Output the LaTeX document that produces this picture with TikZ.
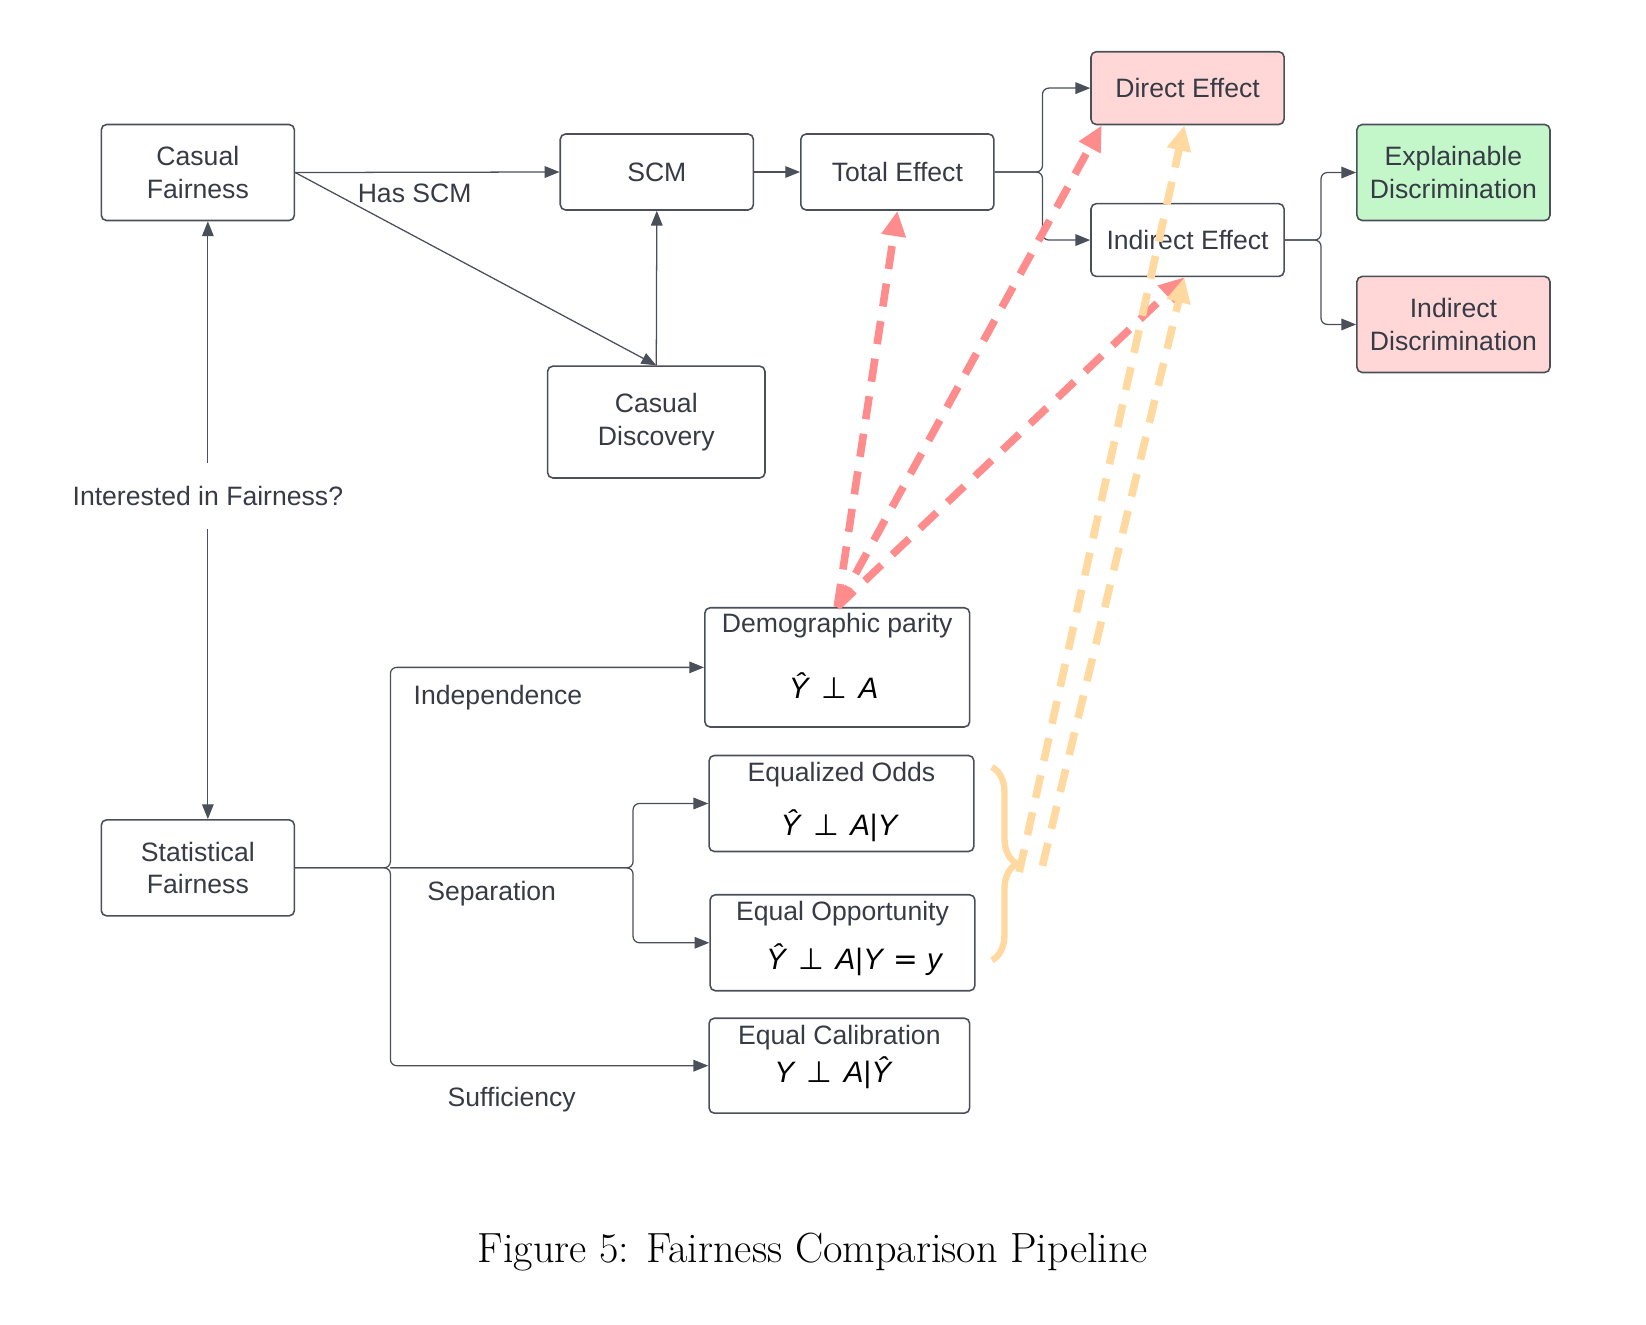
\documentclass[tikz,border=0pt]{standalone}
\usepackage{fontspec}
\usepackage{xcolor}
\newfontfamily\lucid{Liberation Sans}
\newfontfamily\symb{DejaVu Sans}
\usetikzlibrary{arrows.meta,decorations.pathreplacing}

\definecolor{boxline}{HTML}{4A4F59}
\definecolor{inkgray}{HTML}{363B45}
\definecolor{pinkfill}{HTML}{FFD7D7}
\definecolor{greenfill}{HTML}{C3F6C9}
\definecolor{reddash}{HTML}{FF8C8C}
\definecolor{orangedash}{HTML}{FFD99F}

\newcommand{\hatY}{\textit{Ŷ}}
\newcommand{\indep}{\hspace{0.38em}{\symb ⊥}\hspace{0.38em}}
\newcommand{\eqsign}{\hspace{0.3em}{\symb =}\hspace{0.3em}}

\begin{document}
\begin{tikzpicture}[x=0.5pt,y=-0.5pt,
  box/.style={draw=boxline, line width=0.75pt, rounded corners=2.5pt,
    minimum width=91.5pt, minimum height=45.5pt, inner sep=0pt,
    align=center, text=inkgray, font=\lucid\fontsize{12.6}{15.3}\selectfont},
  lbl/.style={text=inkgray, font=\lucid\fontsize{12.6}{15.3}\selectfont, inner sep=0pt},
  formula/.style={text=black, font=\lucid\fontsize{14}{16}\selectfont, inner sep=0pt},
  conn/.style={draw=boxline, line width=0.6pt, -{Triangle[length=7pt,width=5.5pt]}},
  fork/.style={conn, rounded corners=3pt},
  redlink/.style={draw=reddash, line width=3.6pt, dash pattern=on 11pt off 7pt,
    -{Triangle[length=12pt,width=11pt]}},
  orangelink/.style={draw=orangedash, line width=3.6pt, dash pattern=on 11pt off 7pt,
    -{Triangle[length=12pt,width=11pt]}}
]
  \useasboundingbox (0,0) rectangle (1560,1255);

  % causal side
  \node[box] (cf) at (187.5,163.5) {Casual\\Fairness};
  \node[box, minimum height=36pt] (scm) at (622.5,163) {SCM};
  \node[box, minimum height=36pt] (te) at (850.5,163) {Total Effect};
  \node[box, minimum height=34.5pt, fill=pinkfill] (de) at (1125.5,83.5) {Direct Effect};
  \node[box, minimum height=34.5pt] (ie) at (1125.5,227.5) {Indirect Effect};
  \node[box, fill=greenfill] (ed) at (1377.5,163.5) {Explainable\\Discrimination};
  \node[box, fill=pinkfill] (id) at (1377.5,307.5) {Indirect\\Discrimination};
  \node[box, minimum width=103pt, minimum height=53pt] (cd) at (622,400) {Casual\\Discovery};

  \draw[conn] (cf.east) -- (scm.west);
  \node[lbl] (hasscm) at (393,183) {Has SCM};
  \draw[conn] (cf.east) -- (cd.north);
  \draw[conn] (cd.north) -- (scm.south);
  \draw[conn] (scm.east) -- (te.west);

  \coordinate (tesplit) at (988,163);
  \draw[fork] (te.east) -- (tesplit) |- (de.west);
  \draw[fork] (te.east) -- (tesplit) |- (ie.west);
  \coordinate (iesplit) at (1252,227.5);
  \draw[fork] (ie.east) -- (iesplit) |- (ed.west);
  \draw[fork] (ie.east) -- (iesplit) |- (id.west);

  % question
  \node[lbl, inner ysep=11pt] (ask) at (197,470) {Interested in Fairness?};
  \node[box] (sf) at (187.5,822.5) {Statistical\\Fairness};
  \draw[conn] (ask.north) -- (ask.north |- cf.south);
  \draw[conn] (ask.south) -- (ask.south |- sf.north);

  % statistical side
  \node[box, minimum width=125.5pt, minimum height=56.5pt] (dp) at (793.5,632.5) {};
  \node[lbl] (dptitle) at (793.5,593) {Demographic parity};
  \node[formula] (dpmath) at (790,650) {\hatY\indep\textit{A}};

  \node[box, minimum width=125.5pt] (eo) at (797.5,761.5) {};
  \node[lbl] (eotitle) at (797.5,734) {Equalized Odds};
  \node[formula] (eomath) at (796,783) {\hatY\indep\textit{A}|\textit{Y}};

  \node[box, minimum width=125.5pt] (eop) at (798.5,893.5) {};
  \node[lbl] (eoptitle) at (798.5,866) {Equal Opportunity};
  \node[formula] (eopmath) at (810,910) {\hatY\indep\textit{A}|\textit{Y}\eqsign\textit{y}};

  \node[box, minimum width=123.5pt, minimum height=45pt] (ec) at (795.5,1010) {};
  \node[lbl] (ectitle) at (795.5,983) {Equal Calibration};
  \node[formula] (ecmath) at (790,1017) {\textit{Y}\indep\textit{A}|\hatY};

  \coordinate (trunk) at (370,822.5);
  \draw[fork] (sf.east) -- (trunk) |- (dp.west);
  \draw[fork] (sf.east) -- (trunk) |- (ec.west);
  \coordinate (sepsplit) at (600,822.5);
  \draw[fork] (trunk) -- (sepsplit) |- (eo.west);
  \draw[fork] (trunk) -- (sepsplit) |- (eop.west);
  \node[lbl] (indep) at (472,661) {Independence};
  \node[lbl] (sep) at (466,847) {Separation};
  \node[lbl] (suff) at (485,1042) {Sufficiency};

  % brace and dashed links
  \draw[orangedash, line width=3pt, decorate, decoration={brace, amplitude=12pt}]
    (940,727) -- (940,910) node[midway, right=12pt, coordinate] (bracetip) {};
  \draw[redlink] (dp.north) -- (te.south);
  \draw[redlink] (dp.north) -- ([xshift=5.5pt]de.south west);
  \draw[redlink] (dp.north) -- ([xshift=-1.5pt]ie.south);
  \draw[orangelink] ([shift={(1pt,-4pt)}]bracetip) -- ([xshift=-1.5pt]de.south);
  \draw[orangelink] ([shift={(12pt,-1pt)}]bracetip) -- ([xshift=-1.5pt]ie.south);

  \node[font=\fontsize{20}{23}\selectfont] (caption) at (770,1187) {Figure 5: Fairness Comparison Pipeline};
\end{tikzpicture}
\end{document}
